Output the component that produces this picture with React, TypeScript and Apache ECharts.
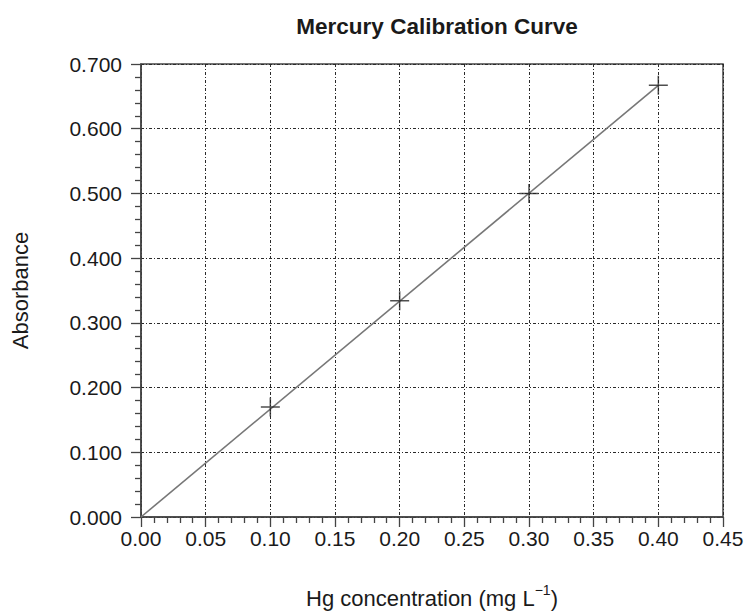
import React, { useEffect, useRef } from "react";
import * as echarts from "echarts";

const titleText = "Mercury Calibration Curve";
const xAxisName = "Hg concentration (mg L";
const yAxisName = "Absorbance";
const concentrations = [0.1, 0.2, 0.3, 0.4];
const absorbances = [0.17, 0.334, 0.5, 0.667];
const fitX = [0, 0.4];
const fitY = [0, 0.667];

const FONT = "'Liberation Sans', Arial, Helvetica, sans-serif";
const TEXT = "#1a1a1a";

export default function App() {
  const ref = useRef<HTMLDivElement>(null);
  useEffect(() => {
    if (!ref.current) return;
    const chart = echarts.init(ref.current, undefined, { renderer: "svg" });
    const axisCommon = {
      axisLine: { show: true, lineStyle: { color: "#444", width: 1.5 } },
      axisTick: { show: true, inside: false, length: 10, lineStyle: { color: "#444", width: 1.3 } },
      minorTick: { show: true, splitNumber: 5, length: 6, lineStyle: { color: "#444", width: 1.3 } },
      splitLine: { show: true, lineStyle: { color: "#2a2a2a", width: 1, type: [3, 2, 1, 2] } },
    };
    chart.setOption({
      animation: false,
      backgroundColor: "#fff",
      title: {
        text: titleText,
        left: 432,
        top: 10,
        textAlign: "center",
        textStyle: { fontFamily: FONT, fontSize: 22.5, fontWeight: "bold", color: TEXT },
      },
      grid: {
        left: 141,
        top: 64,
        right: 26,
        bottom: 96,
        show: true,
        borderColor: "#444",
        borderWidth: 1.5,
        backgroundColor: "transparent",
      },
      xAxis: {
        type: "value",
        min: 0,
        max: 0.45,
        interval: 0.05,
        ...axisCommon,
        axisLabel: {
          formatter: (v: number) => v.toFixed(2),
          fontFamily: FONT,
          fontSize: 21,
          color: TEXT,
          margin: 11,
        },
        name: "{t|" + xAxisName + "}{s|−1}{t|)}",
        nameLocation: "middle",
        nameGap: 66,
        nameTextStyle: {
          rich: {
            t: { fontFamily: FONT, fontSize: 22, color: TEXT, lineHeight: 26, verticalAlign: "bottom" },
            s: { fontFamily: FONT, fontSize: 14, color: TEXT, lineHeight: 26, verticalAlign: "top" },
          },
        },
      },
      yAxis: {
        type: "value",
        min: 0,
        max: 0.7,
        interval: 0.1,
        ...axisCommon,
        axisLabel: {
          formatter: (v: number) => v.toFixed(3),
          fontFamily: FONT,
          fontSize: 21,
          color: TEXT,
          margin: 19,
        },
        name: yAxisName,
        nameLocation: "middle",
        nameGap: 110,
        nameTextStyle: { fontFamily: FONT, fontSize: 22, color: TEXT },
      },
      series: [
        {
          type: "line",
          data: fitX.map((x, i) => [x, fitY[i]]),
          showSymbol: false,
          lineStyle: { color: "#777", width: 1.6 },
          z: 2,
        },
        {
          type: "scatter",
          data: concentrations.map((x, i) => [x, absorbances[i]]),
          symbol: "path://M0,10 L20,10 M10,0 L10,20",
          symbolSize: 19,
          itemStyle: { color: "transparent", borderColor: "#222", borderWidth: 1.5 },
          z: 3,
        },
      ],
    });
    return () => chart.dispose();
  }, []);
  return (
    <div
      ref={ref}
      style={{ position: "fixed", left: 0, top: 0, width: 749, height: 614, background: "#fff" }}
    />
  );
}
